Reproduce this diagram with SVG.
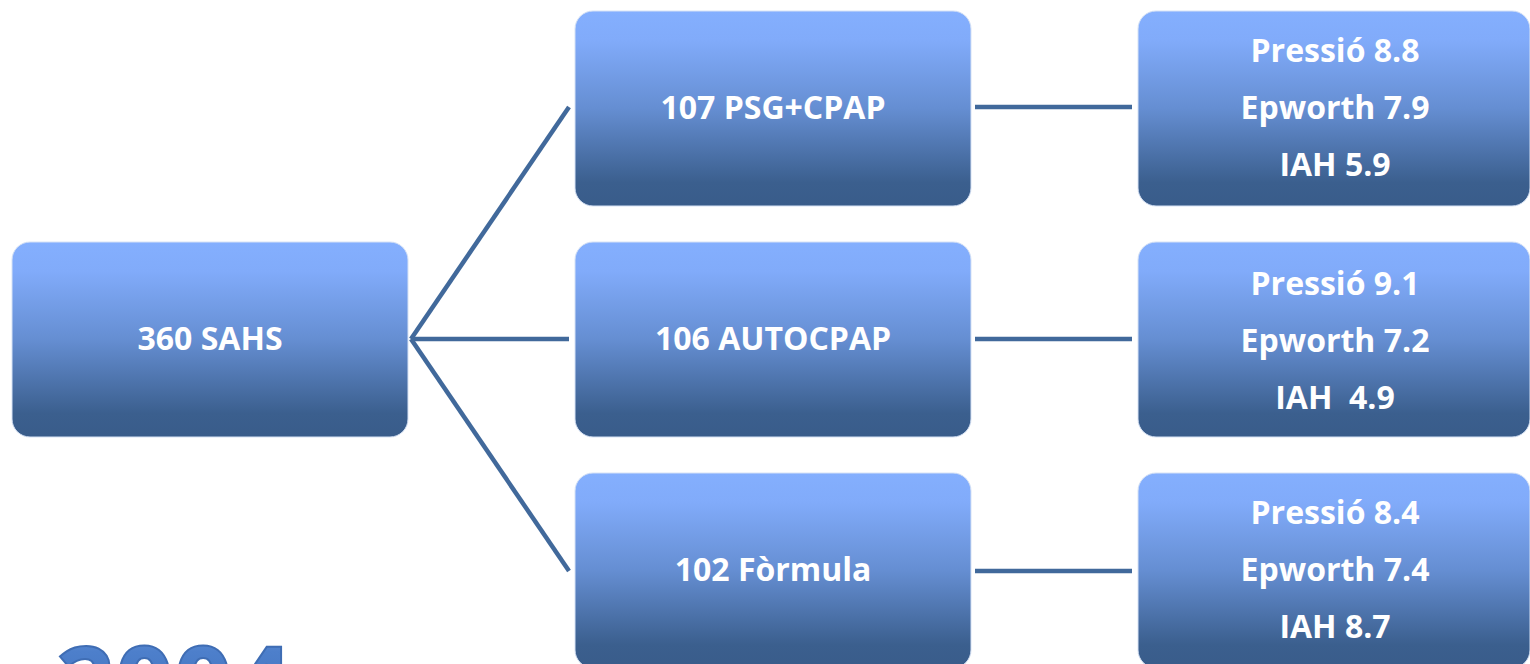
<svg xmlns="http://www.w3.org/2000/svg" width="1530" height="664" viewBox="0 0 1530 664">
<defs>
<linearGradient id="boxg" x1="0" y1="0" x2="0" y2="1">
<stop offset="0" stop-color="#84affe"/>
<stop offset="0.15" stop-color="#81abfa"/>
<stop offset="0.5" stop-color="#658ed2"/>
<stop offset="0.88" stop-color="#3b5f8e"/>
<stop offset="1" stop-color="#395c8a"/>
</linearGradient>
<linearGradient id="yearg" x1="0" y1="0" x2="0" y2="1">
<stop offset="0" stop-color="#6e9be0"/>
<stop offset="0.3" stop-color="#4d7fcb"/>
<stop offset="1" stop-color="#3b69b0"/>
</linearGradient>
<style>
.box{fill:url(#boxg);stroke:#d6e2f5;stroke-width:1}
.t{font-family:"Open Sans","Liberation Sans",sans-serif;font-weight:700;font-size:32px;fill:#ffffff;text-anchor:middle}
.c{stroke:#41699b;stroke-width:4.5;fill:none}
</style>
</defs>
<rect width="1530" height="664" fill="#ffffff"/>
<g id="connectors">
<line class="c" x1="411" y1="339" x2="569" y2="107"/>
<line class="c" x1="411" y1="339" x2="569" y2="339"/>
<line class="c" x1="411" y1="339" x2="569" y2="571"/>
<line class="c" x1="975" y1="107" x2="1132" y2="107"/>
<line class="c" x1="975" y1="339" x2="1132" y2="339"/>
<line class="c" x1="975" y1="571" x2="1132" y2="571"/>
</g>
<g id="n360">
<rect class="box" x="12" y="242" width="396" height="195" rx="18"/>
<text class="t" x="210" y="350">360 SAHS</text>
</g>
<g id="n107">
<rect class="box" x="575" y="11" width="396" height="195" rx="18"/>
<text class="t" x="773" y="119">107 PSG+CPAP</text>
</g>
<g id="n106">
<rect class="box" x="575" y="242" width="396" height="195" rx="18"/>
<text class="t" x="773" y="350">106 AUTOCPAP</text>
</g>
<g id="n102">
<rect class="box" x="575" y="473" width="396" height="195" rx="18"/>
<text class="t" x="773" y="581">102 Fòrmula</text>
</g>
<g id="r107">
<rect class="box" x="1138" y="11" width="392" height="195" rx="18"/>
<text class="t" x="1335" y="62">Pressió 8.8</text>
<text class="t" x="1335" y="119">Epworth 7.9</text>
<text class="t" x="1335" y="176">IAH 5.9</text>
</g>
<g id="r106">
<rect class="box" x="1138" y="242" width="392" height="195" rx="18"/>
<text class="t" x="1335" y="295">Pressió 9.1</text>
<text class="t" x="1335" y="352">Epworth 7.2</text>
<text class="t" x="1335" y="409" xml:space="preserve">IAH  4.9</text>
</g>
<g id="r102">
<rect class="box" x="1138" y="473" width="392" height="195" rx="18"/>
<text class="t" x="1335" y="524">Pressió 8.4</text>
<text class="t" x="1335" y="581">Epworth 7.4</text>
<text class="t" x="1335" y="638">IAH 8.7</text>
</g>
<g id="year">
<text x="56" y="720" font-family="'Open Sans','Liberation Sans',sans-serif" font-weight="700" font-size="103" fill="url(#yearg)" stroke="#3f6db4" stroke-width="2">2004</text>
</g>
</svg>
